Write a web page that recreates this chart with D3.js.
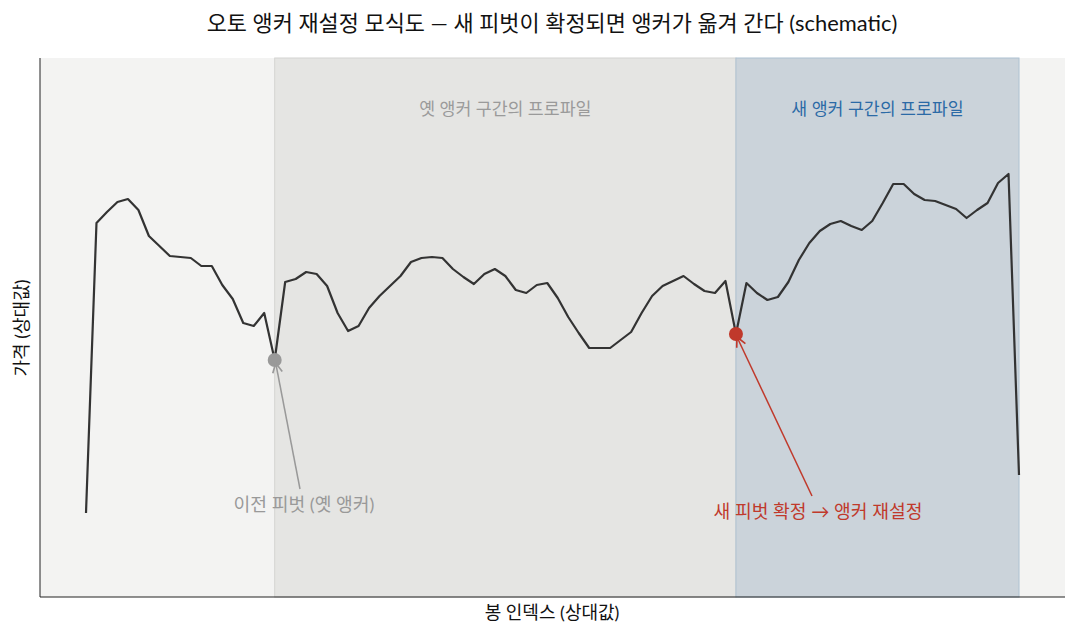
<!DOCTYPE html>
<html><head><meta charset="utf-8">
<script src="https://cdn.jsdelivr.net/npm/d3@7"></script>
<style>body{margin:0;background:#fff}text{font-family:Lato,"Noto Sans CJK KR",sans-serif}</style>
</head><body><svg id="c" width="1078" height="636"></svg>
<script>
// price values (relative units), one per bar index
const prices = [84,374,385,395,398,387,361,351,341,340,339,331,331,312,298,274,271,284,237,315,
  318,325,323,311,284,266,271,289,301,311,321,335,339,340,339,328,320,313,323,328,
  321,307,304,312,314,299,280,264,249,249,249,257,265,284,301,311,316,321,313,306,
  304,316,263,314,304,297,300,315,337,354,366,373,376,371,367,376,394,413,413,403,
  397,396,392,388,379,387,394,414,423,122];
const oldPivot = 18, newPivot = 62;
const regions = [
  {from: 18, to: 62, fill: "#e5e5e3", stroke: "#d4d4d2", label: "옛 앵커 구간의 프로파일", color: "#9a9a9a"},
  {from: 62, to: 89, fill: "#cbd3da", stroke: "#aec2d2", label: "새 앵커 구간의 프로파일", color: "#2b6aa6"}
];
const notes = [
  {i: oldPivot, text: "이전 피벗 (옛 앵커)", tx: 304, ty: 511, ax: 300, ay: 489, color: "#999999"},
  {i: newPivot, text: "새 피벗 확정 → 앵커 재설정", tx: 818, ty: 518, ax: 812, ay: 496, color: "#c0392b"}
];

const svg = d3.select("#c");
const m = {l: 40, r: 1065, t: 58, b: 597};
const x = d3.scaleLinear().domain([0, 89]).range([86, 1019]);
const y = d3.scaleLinear().domain([0, 539]).range([m.b, m.t]);

svg.append("rect").attr("x", m.l).attr("y", m.t).attr("width", m.r - m.l).attr("height", m.b - m.t).attr("fill", "#f3f3f2");
regions.forEach(r => {
  svg.append("rect").attr("x", x(r.from)).attr("y", m.t).attr("width", x(r.to) - x(r.from)).attr("height", m.b - m.t)
    .attr("fill", r.fill).attr("stroke", r.stroke).attr("stroke-width", 1);
  svg.append("text").attr("x", (x(r.from) + x(r.to)) / 2).attr("y", 115).attr("text-anchor", "middle")
    .attr("font-size", 17.3).attr("fill", r.color).text(r.label);
});

svg.append("path").datum(prices)
  .attr("d", d3.line().x((d, i) => x(i)).y(d => y(d)))
  .attr("fill", "none").attr("stroke", "#333").attr("stroke-width", 2.2).attr("stroke-linejoin", "round");

const defs = svg.append("defs");
notes.forEach((n, k) => {
  defs.append("marker").attr("id", "ar" + k).attr("viewBox", "0 0 10 10").attr("refX", 9).attr("refY", 5)
    .attr("markerWidth", 8).attr("markerHeight", 8).attr("orient", "auto")
    .append("path").attr("d", "M1,1 L9,5 L1,9").attr("fill", "none").attr("stroke", n.color).attr("stroke-width", 1.4);
  svg.append("circle").attr("cx", x(n.i)).attr("cy", y(prices[n.i])).attr("r", 7).attr("fill", n.color);
  svg.append("line").attr("x1", n.ax).attr("y1", n.ay).attr("x2", x(n.i) + 1).attr("y2", y(prices[n.i]) + 3)
    .attr("stroke", n.color).attr("stroke-width", 1.5).attr("marker-end", "url(#ar" + k + ")");
  svg.append("text").attr("x", n.tx).attr("y", n.ty).attr("text-anchor", "middle").attr("font-size", 18.2)
    .attr("fill", n.color).text(n.text);
});

svg.append("line").attr("x1", m.l).attr("x2", m.l).attr("y1", m.t).attr("y2", m.b).attr("stroke", "#222");
svg.append("line").attr("x1", m.l).attr("x2", m.r).attr("y1", m.b).attr("y2", m.b).attr("stroke", "#222");

svg.append("text").attr("x", 552).attr("y", 31).attr("text-anchor", "middle").attr("font-size", 21.9).attr("fill", "#111")
  .text("오토 앵커 재설정 모식도 — 새 피벗이 확정되면 앵커가 옮겨 간다 (schematic)");
svg.append("text").attr("x", 552).attr("y", 619).attr("text-anchor", "middle").attr("font-size", 18).attr("fill", "#111")
  .text("봉 인덱스 (상대값)");
svg.append("text").attr("transform", "translate(28,328) rotate(-90)").attr("text-anchor", "middle").attr("font-size", 18).attr("fill", "#111")
  .text("가격 (상대값)");
</script></body></html>
